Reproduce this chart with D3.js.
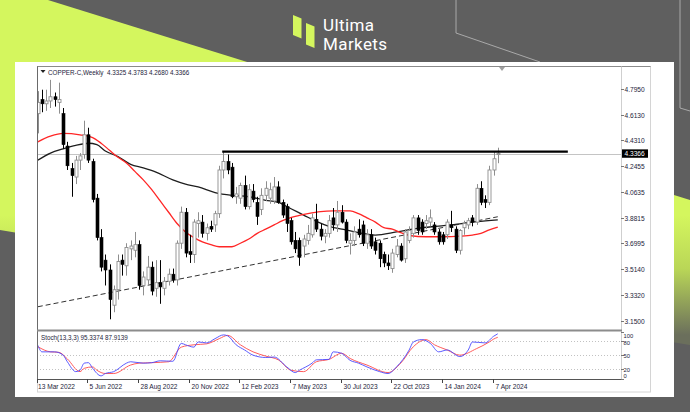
<!DOCTYPE html>
<html><head><meta charset="utf-8">
<script src="https://cdn.jsdelivr.net/npm/d3@7"></script>
<style>body{margin:0;background:#5f5f5f}svg{display:block}</style>
</head><body>
<script>
// ---------------- DATA ----------------
const opens  = [4.62,4.72,4.69,4.71,4.74,4.70,4.62,4.39,4.23,4.17,4.29,4.33,4.47,4.28,4.02,3.74,3.58,3.51,3.26,3.37,3.58,3.54,3.66,3.65,3.69,3.40,3.44,3.53,3.38,3.42,3.38,3.43,3.48,3.44,3.70,3.92,3.64,3.62,3.84,3.85,3.77,3.82,3.83,3.91,4.22,4.28,4.24,4.03,4.02,4.11,3.96,4.07,3.99,3.94,4.04,4.02,4.00,4.10,3.99,3.96,3.86,3.72,3.72,3.68,3.72,3.76,3.87,3.80,3.75,3.77,3.88,3.83,3.92,3.85,3.70,3.72,3.80,3.83,3.70,3.76,3.71,3.70,3.62,3.56,3.52,3.62,3.68,3.59,3.72,3.77,3.88,3.85,3.84,3.85,3.83,3.78,3.76,3.76,3.83,3.80,3.65,3.81,3.83,3.88,3.85,4.09,4.01,3.99,4.22,4.3325];
const highs  = [4.78,4.79,4.79,4.86,4.77,4.84,4.66,4.42,4.27,4.32,4.34,4.57,4.52,4.30,4.05,3.80,3.62,3.55,3.40,3.62,3.62,3.70,3.72,3.78,3.72,3.50,3.61,3.57,3.58,3.58,3.46,3.52,3.52,3.72,3.96,3.95,3.76,3.87,3.92,3.90,3.84,3.86,3.93,4.25,4.35,4.33,4.27,4.10,4.13,4.18,4.12,4.12,4.03,4.09,4.14,4.13,4.17,4.14,4.01,3.98,3.88,3.78,3.74,3.76,3.83,3.91,3.98,3.84,3.80,3.90,3.95,4.00,3.97,3.87,3.77,3.82,3.87,3.86,3.80,3.80,3.74,3.72,3.64,3.62,3.66,3.73,3.70,3.80,3.82,3.90,3.90,3.87,3.90,3.94,3.85,3.80,3.78,3.87,3.93,3.82,3.80,3.86,3.88,3.90,4.12,4.14,4.04,4.25,4.35,4.3783];
const lows   = [4.48,4.63,4.64,4.66,4.67,4.62,4.37,4.22,4.03,4.12,4.22,4.30,4.27,3.99,3.72,3.50,3.40,3.16,3.21,3.30,3.47,3.47,3.58,3.60,3.37,3.33,3.40,3.33,3.32,3.27,3.33,3.40,3.42,3.40,3.66,3.60,3.56,3.56,3.74,3.74,3.72,3.78,3.78,3.88,4.16,4.19,4.02,3.98,3.98,3.94,3.94,3.99,3.83,3.90,4.00,3.98,3.98,3.98,3.88,3.78,3.69,3.63,3.54,3.60,3.69,3.74,3.78,3.72,3.70,3.74,3.79,3.78,3.84,3.70,3.62,3.68,3.74,3.68,3.66,3.66,3.62,3.53,3.53,3.51,3.49,3.60,3.57,3.56,3.70,3.74,3.76,3.76,3.80,3.82,3.76,3.69,3.69,3.73,3.78,3.63,3.62,3.76,3.80,3.82,3.83,3.97,3.95,3.97,4.18,4.2680];
const closes = [4.70,4.69,4.71,4.74,4.72,4.72,4.40,4.25,4.18,4.29,4.32,4.47,4.29,4.01,3.74,3.53,3.51,3.30,3.37,3.57,3.55,3.67,3.68,3.69,3.40,3.46,3.53,3.36,3.42,3.39,3.43,3.48,3.44,3.70,3.92,3.63,3.62,3.85,3.86,3.77,3.81,3.80,3.91,4.22,4.28,4.22,4.03,4.05,4.11,3.96,4.08,4.01,3.89,4.04,4.09,4.08,4.10,3.99,3.90,3.84,3.71,3.66,3.60,3.73,3.77,3.88,3.80,3.75,3.77,3.86,3.83,3.92,3.85,3.72,3.72,3.78,3.76,3.70,3.76,3.68,3.65,3.59,3.56,3.54,3.63,3.68,3.58,3.78,3.79,3.88,3.79,3.78,3.86,3.88,3.78,3.71,3.71,3.85,3.81,3.65,3.79,3.84,3.86,3.85,4.09,3.99,3.99,4.22,4.30,4.3366];

const priceTicks = [4.7950,4.6130,4.4310,4.2455,4.0635,3.8815,3.6995,3.5140,3.3320,3.1500];
const dateTickIdx = [0,12,24,36,48,60,72,84,96,108];
const dateTickLabels = ["13 Mar 2022","5 Jun 2022","28 Aug 2022","20 Nov 2022","12 Feb 2023","7 May 2023","30 Jul 2023","22 Oct 2023","14 Jan 2024","7 Apr 2024"];

// moving averages: [bar index, price]
const maRed = [[0,4.42],[3,4.46],[6,4.48],[10,4.47],[13,4.45],[15,4.41],[17,4.36],[19,4.31],[21,4.27],[23,4.21],[25,4.15],[27,4.08],[29,4.00],[31,3.92],[33,3.84],[35,3.78],[37,3.74],[39,3.71],[41,3.69],[43,3.675],[46,3.675],[48,3.70],[50,3.73],[52,3.77],[54,3.80],[56,3.83],[58,3.86],[61,3.89],[64,3.91],[67,3.925],[70,3.93],[74,3.93],[76,3.91],[78,3.88],[80,3.85],[82,3.81],[84,3.80],[86,3.775],[88,3.755],[92,3.746],[96,3.746],[100,3.75],[103,3.758],[105,3.77],[107,3.795],[109,3.815]];
const maBlack = [[0,4.29],[3,4.34],[6,4.37],[9,4.395],[12,4.41],[14,4.40],[16,4.355],[19,4.315],[22,4.26],[25,4.235],[28,4.205],[32,4.15],[35,4.12],[38,4.10],[42,4.06],[46,4.04],[50,4.03],[54,4.005],[57,3.99],[60,3.945],[63,3.90],[66,3.855],[69,3.82],[73,3.795],[77,3.77],[80,3.758],[85,3.78],[90,3.806],[95,3.822],[100,3.838],[104,3.853],[109,3.866]];
const trendLine = [[0,3.249],[109,3.888]];
const resistanceLevel = 4.350, resistanceFrom = 43.7, resistanceTo = 125.6;
const lastPrice = 4.3366;

// stochastic (13,3,3): [bar index, value]
const stochK = [[0,71],[1,57],[4,57],[6,50],[7,36],[9,15],[10,18],[11,33],[12,34],[13,22],[15,6],[16,11],[18,15],[21,33],[22,36],[25,33],[27,34],[29,38],[32,37],[34,75],[35,72],[37,67],[38,78],[40,76],[42,85],[44,93],[45,91],[47,72],[49,61],[51,50],[54,45],[56,46],[59,25],[61,13],[62,18],[65,33],[66,40],[69,41],[70,57],[72,54],[74,39],[76,33],[78,25],[81,15],[83,11],[85,25],[88,61],[89,78],[91,83],[93,75],[95,57],[97,61],[100,47],[102,61],[103,78],[106,76],[108,90],[109,95.34]];
const stochD = [[0,68],[3,57],[5,56],[7,42],[10,15],[11,22],[13,25],[14,18],[16,11],[18,11],[22,29],[24,33],[27,34],[31,36],[34,67],[37,72],[40,74],[43,85],[45,92],[48,72],[51,57],[54,48],[57,40],[60,18],[63,15],[66,36],[69,41],[72,54],[74,43],[78,29],[83,13],[86,33],[89,68],[92,83],[94,72],[97,61],[100,50],[104,64],[107,78],[108,84],[109,87.91]];
const stochLevels = [80,50,20];
const stochAxisVals = [100,80,50,20,0];

const headerText = "COPPER-C,Weekly  4.3325 4.3783 4.2680 4.3366";
const stochTitle = "Stoch(13,3,3) 95.3374 87.9139";
const brand = ["Ultima","Markets"];

// ---------------- DRAW ----------------
const W=690,H=412;
const FONT='"Liberation Sans", Arial, sans-serif';
const TXT='#1c1c3a';
const svg=d3.select("body").append("svg").attr("width",W).attr("height",H);
const defs=svg.append("defs");

// background
svg.append("rect").attr("width",W).attr("height",H).attr("fill","#5f5f5f");
const lg=defs.append("linearGradient").attr("id","lime").attr("gradientUnits","userSpaceOnUse")
  .attr("x1",680).attr("y1",215).attr("x2",680).attr("y2",335);
lg.append("stop").attr("offset",0).attr("stop-color","#d4f65e");
lg.append("stop").attr("offset",0.45).attr("stop-color","#b9d657");
lg.append("stop").attr("offset",1).attr("stop-color","#6b6f5c");
svg.append("polygon").attr("points","0,0 48,0 690,200 690,345 0,230").attr("fill","url(#lime)");
svg.append("path").attr("d","M456,0 V33 L540,62").attr("fill","none").attr("stroke","#a9a9a9").attr("stroke-width",1);
svg.append("path").attr("d","M680,0 V108 L690,111").attr("fill","none").attr("stroke","#a9a9a9").attr("stroke-width",1);

// logo
svg.append("polygon").attr("points","293,15 301.5,18.5 301.5,38.5 293,35").attr("fill","#d4f65e");
svg.append("polygon").attr("points","306,23 314.5,26.5 314.5,48 306,44.5").attr("fill","#d4f65e");
svg.append("text").attr("x",323).attr("y",30.5).attr("fill","#fff").attr("font-family","Roboto, sans-serif").attr("font-size",17).attr("letter-spacing",0.4).text(brand[0]);
svg.append("text").attr("x",323).attr("y",49.5).attr("fill","#fff").attr("font-family","Roboto, sans-serif").attr("font-size",17).attr("letter-spacing",0.4).text(brand[1]);

// white card
svg.append("rect").attr("x",15).attr("y",62).attr("width",659).attr("height",335).attr("fill","#fff");

// geometry
const X0=37, X1=621, Y0=66.5, Y1=330.5, SY0=331.5, SY1=379;
const x=d3.scaleLinear().domain([0,109]).range([37.8,37.8+109*4.22]);
const y=d3.scaleLinear().domain([3.15,4.795]).range([320.7,89]);
const ys=d3.scaleLinear().domain([0,100]).range([378.7,331.6]);

// outer frame
svg.append("rect").attr("x",X0+0.5).attr("y",Y0).attr("width",650-X0).attr("height",392-Y0).attr("fill","none").attr("stroke","#d4d4d4");
svg.append("line").attr("x1",X0).attr("x2",650.5).attr("y1",Y0).attr("y2",Y0).attr("stroke","#8a8a8a");
svg.append("line").attr("x1",X0+0.5).attr("x2",X0+0.5).attr("y1",Y0).attr("y2",SY1).attr("stroke","#6a6a6a");
svg.append("line").attr("x1",X1+0.5).attr("x2",X1+0.5).attr("y1",Y0).attr("y2",SY1).attr("stroke","#cfcfcf");

// clip for main panel
defs.append("clipPath").attr("id","mainclip").append("rect").attr("x",X0+1).attr("y",Y0+0.5).attr("width",X1-X0-1).attr("height",Y1-Y0-1);
defs.append("clipPath").attr("id","stclip").append("rect").attr("x",X0+1).attr("y",SY0+1).attr("width",X1-X0-1).attr("height",SY1-SY0-1.5);
const main=svg.append("g").attr("clip-path","url(#mainclip)");

// current price line
main.append("line").attr("x1",X0).attr("x2",X1).attr("y1",Math.round(y(lastPrice))+0.5).attr("y2",Math.round(y(lastPrice))+0.5).attr("stroke","#c4c4c4");

// trend line (dashed)
main.append("path").attr("d",d3.line().x(d=>x(d[0])).y(d=>y(d[1]))(trendLine))
  .attr("fill","none").attr("stroke","#333").attr("stroke-width",1).attr("stroke-dasharray","5,3");

// moving averages
main.append("path").attr("d",d3.line().x(d=>x(d[0])).y(d=>y(d[1])).curve(d3.curveMonotoneX)(maBlack))
  .attr("fill","none").attr("stroke","#1e1e1e").attr("stroke-width",1.3);
main.append("path").attr("d",d3.line().x(d=>x(d[0])).y(d=>y(d[1])).curve(d3.curveMonotoneX)(maRed))
  .attr("fill","none").attr("stroke","#ff2626").attr("stroke-width",1.3);

// candles
const idx=d3.range(closes.length);
const cg=main.append("g");
idx.forEach(i=>{
  const cx=Math.round(x(i))+0.5;
  const bull=closes[i]>=opens[i];
  const col=bull?"#8e8e8e":"#000";
  cg.append("line").attr("x1",cx).attr("x2",cx).attr("y1",y(highs[i])).attr("y2",y(lows[i])).attr("stroke",col).attr("stroke-width",1);
  const top=y(Math.max(opens[i],closes[i])), bot=y(Math.min(opens[i],closes[i]));
  cg.append("rect").attr("x",cx-1.5).attr("y",top).attr("width",3).attr("height",Math.max(1,bot-top))
    .attr("fill",bull?"#fff":"#000").attr("stroke",col).attr("stroke-width",bull?0.9:0.6);
});

// resistance line
main.append("line").attr("x1",x(resistanceFrom)).attr("x2",x(resistanceTo)).attr("y1",y(resistanceLevel)).attr("y2",y(resistanceLevel))
  .attr("stroke","#000").attr("stroke-width",2.2);

// shift marker
svg.append("polygon").attr("points","499,67 505,67 502,71").attr("fill","#a0a0a0");

// header
svg.append("polygon").attr("points","40.5,70 45.5,70 43,73").attr("fill","#222");
svg.append("text").attr("x",48).attr("y",75).attr("font-family",FONT).attr("font-size",6.3).attr("fill",TXT).attr("xml:space","preserve").style("white-space","pre").text(headerText);

// price axis
const pa=svg.append("g");
priceTicks.forEach(v=>{
  const yy=Math.round(y(v))+0.5;
  pa.append("line").attr("x1",X1).attr("x2",X1+3).attr("y1",yy).attr("y2",yy).attr("stroke","#777");
  pa.append("text").attr("x",624.5).attr("y",yy+2.3).attr("font-family",FONT).attr("font-size",6.6).attr("fill",TXT).text(v.toFixed(4));
});
const ly=y(lastPrice);
pa.append("rect").attr("x",622).attr("y",ly-4.2).attr("width",26).attr("height",8.4).attr("fill","#000");
pa.append("text").attr("x",624.5).attr("y",ly+2.4).attr("font-family",FONT).attr("font-size",6.6).attr("fill","#fff").text(lastPrice.toFixed(4));

// panel separator and stochastic panel
svg.append("rect").attr("x",X0).attr("y",329.5).attr("width",X1-X0+1).attr("height",2).attr("fill","#8c8c8c");
svg.append("line").attr("x1",X0).attr("x2",X1+1).attr("y1",SY1+0.5).attr("y2",SY1+0.5).attr("stroke","#555");
const st=svg.append("g").attr("clip-path","url(#stclip)");
stochLevels.forEach(v=>{
  st.append("line").attr("x1",X0).attr("x2",X1).attr("y1",Math.round(ys(v))+0.5).attr("y2",Math.round(ys(v))+0.5)
    .attr("stroke","#c2c2c2").attr("stroke-dasharray","1,2");
});
st.append("path").attr("d",d3.line().x(d=>x(d[0])).y(d=>ys(d[1])).curve(d3.curveMonotoneX)(stochD))
  .attr("fill","none").attr("stroke","#ff4a4a").attr("stroke-width",1).attr("opacity",0.9);
st.append("path").attr("d",d3.line().x(d=>x(d[0])).y(d=>ys(d[1])).curve(d3.curveMonotoneX)(stochK))
  .attr("fill","none").attr("stroke","#4a4aff").attr("stroke-width",1).attr("opacity",0.9);
svg.append("text").attr("x",41).attr("y",340).attr("font-family",FONT).attr("font-size",6.3).attr("fill",TXT).text(stochTitle);
const stochLabelY = {100:338.3, 80:345, 50:357.6, 20:371.6, 0:377.8};
stochAxisVals.forEach(v=>{
  const yy=ys(v);
  svg.append("line").attr("x1",X1).attr("x2",X1+3).attr("y1",Math.round(yy)+0.5).attr("y2",Math.round(yy)+0.5).attr("stroke","#777");
  svg.append("text").attr("x",623.5).attr("y",stochLabelY[v]).attr("font-family",FONT).attr("font-size",5.8).attr("fill",TXT).text(String(v));
});

// date axis
dateTickIdx.forEach((d,k)=>{
  const xx=Math.round(x(d))-0.5;
  svg.append("line").attr("x1",xx).attr("x2",xx).attr("y1",SY1).attr("y2",SY1+4).attr("stroke","#444");
  svg.append("text").attr("x",xx+(k===0?0.5:2)).attr("y",388.5).attr("font-family",FONT).attr("font-size",6.6).attr("fill",TXT).text(dateTickLabels[k]);
});
</script>
</body></html>
